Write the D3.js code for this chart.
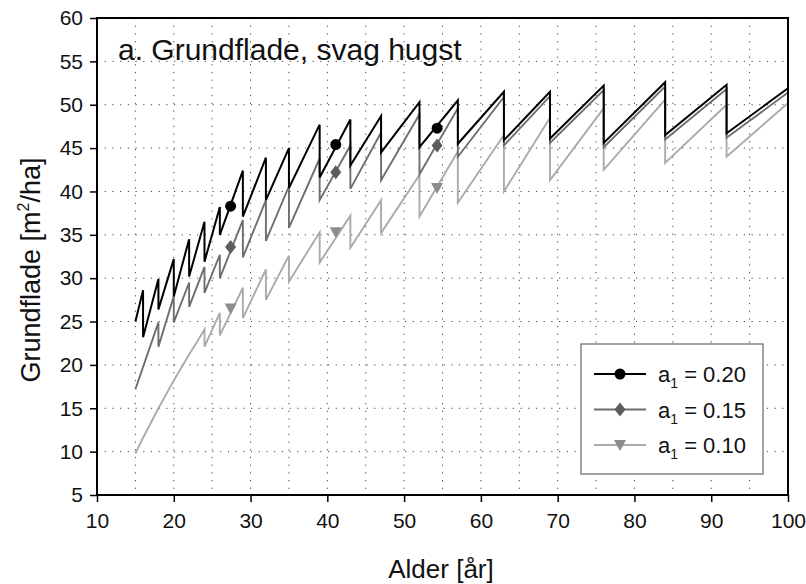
<!DOCTYPE html>
<html>
<head>
<meta charset="utf-8">
<script src="https://cdn.jsdelivr.net/npm/d3@7/dist/d3.min.js"></script>
<style>
  body { margin: 0; background: #fff; }
  svg { display: block; font-family: 'Liberation Sans', Arial, sans-serif; }
</style>
</head>
<body>
<svg id="chart" width="806" height="584"></svg>
<script>
// thinning ages (hugst), shared by all three series
const hugstAlder = [16, 18, 20, 22, 24, 26, 29, 32, 35, 39, 43, 47, 52, 57, 63, 69, 76, 84, 92];

// a1 = 0.20 : basal area before / after each thinning
const start020 = [[15, 25.0]];
const foer020 = [28.6, 29.9, 32.2, 34.5, 36.5, 38.2, 42.4, 43.9, 45.0, 47.7, 48.3, 48.7, 50.3, 50.5, 51.5, 51.5, 52.2, 52.6, 52.3];
const efter020 = [23.2, 26.4, 27.9, 30.2, 31.9, 35.0, 37.1, 39.0, 40.4, 41.6, 43.0, 44.5, 45.1, 45.5, 45.9, 46.1, 45.6, 46.5, 46.7];
const slut020 = 51.9;

// a1 = 0.15
const start015 = [[15, 17.2]];
const foer015 = [null, 24.9, 27.9, 29.5, 31.3, 32.7, 36.7, 39.0, 40.6, 43.8, 45.3, 46.8, 48.9, 49.6, 50.9, 51.0, 51.7, 52.1, 51.8];
const efter015 = [null, 22.1, 24.9, 26.7, 28.3, 30.0, 32.4, 34.3, 35.8, 39.0, 40.3, 41.3, 42.0, 44.0, 45.3, 45.6, 45.1, 46.0, 46.2];
const slut015 = 51.4;

// a1 = 0.10
const start010 = [[15, 9.8], [16, 11.6], [17, 13.3], [18, 15.0], [19, 16.6], [20, 18.2], [21, 19.7], [22, 21.2], [23, 22.6]];
const foer010 = [null, null, null, null, 24.1, 26.0, 28.9, 31.0, 32.6, 35.3, 37.2, 39.0, 41.9, 44.6, 46.5, 48.5, 49.6, 50.6, 50.0];
const efter010 = [null, null, null, null, 22.1, 23.4, 25.4, 27.5, 29.6, 31.8, 33.5, 35.2, 37.1, 38.7, 40.0, 41.3, 42.5, 43.3, 44.0];
const slut010 = 50.2;

// marker positions
const mark020 = [[27.4, 38.3], [41.1, 45.4], [54.3, 47.3]];
const mark015 = [[27.4, 33.6], [41.1, 42.2], [54.3, 45.3]];
const mark010 = [[27.4, 26.5], [41.1, 35.3], [54.3, 40.4]];

const xTicks = [10, 20, 30, 40, 50, 60, 70, 80, 90, 100];
const yTicks = [5, 10, 15, 20, 25, 30, 35, 40, 45, 50, 55, 60];
const legendLabels = ['0.20', '0.15', '0.10'];

const margin = { top: 18, left: 97, right: 18, bottom: 89 };
const svg = d3.select('#chart');
const W = +svg.attr('width'), H = +svg.attr('height');
const w = W - margin.left - margin.right;
const h = H - margin.top - margin.bottom;

const x = d3.scaleLinear().domain([10, 100]).range([0, w]);
const y = d3.scaleLinear().domain([5, 60]).range([h, 0]);

const g = svg.append('g').attr('transform', `translate(${margin.left},${margin.top})`);

// dotted grid, every 5 units both ways
const gridX = d3.range(15, 100, 5);
const gridY = d3.range(10, 60, 5);
g.append('g').selectAll('line').data(gridX).join('line')
  .attr('x1', d => x(d)).attr('x2', d => x(d))
  .attr('y1', 0).attr('y2', h)
  .attr('stroke', '#444').attr('stroke-width', 1)
  .attr('stroke-dasharray', '1.2,6.5');
g.append('g').selectAll('line').data(gridY).join('line')
  .attr('y1', d => y(d)).attr('y2', d => y(d))
  .attr('x1', 0).attr('x2', w)
  .attr('stroke', '#444').attr('stroke-width', 1)
  .attr('stroke-dasharray', '1.2,6.5');

// build sawtooth point list
const buildSeries = (start, foer, efter, slut) => {
  const pts = start.slice();
  hugstAlder.forEach((a, i) => {
    if (foer[i] === null) return;
    pts.push([a, foer[i]]);
    pts.push([a, efter[i]]);
  });
  pts.push([100, slut]);
  return pts;
};

const series = [
  { pts: buildSeries(start010, foer010, efter010, slut010), color: '#aaaaaa', width: 1.9, marks: mark010, shape: 'tri', fill: '#8c8c8c' },
  { pts: buildSeries(start015, foer015, efter015, slut015), color: '#6e6e6e', width: 1.9, marks: mark015, shape: 'dia', fill: '#5c5c5c' },
  { pts: buildSeries(start020, foer020, efter020, slut020), color: '#000', width: 2, marks: mark020, shape: 'circ', fill: '#000' }
];

const line = d3.line().x(d => x(d[0])).y(d => y(d[1]));

const symbolPath = (shape) => {
  if (shape === 'circ') return d3.symbol(d3.symbolCircle, 95)();
  if (shape === 'dia') return 'M0,-7L5.5,0L0,7L-5.5,0Z';
  return 'M-6,-5L6,-5L0,6Z';
};

series.forEach(s => {
  g.append('path')
    .attr('d', line(s.pts))
    .attr('fill', 'none')
    .attr('stroke', s.color)
    .attr('stroke-width', s.width)
    .attr('stroke-linejoin', 'miter');
});
series.forEach(s => {
  g.append('g').selectAll('path').data(s.marks).join('path')
    .attr('transform', d => `translate(${x(d[0])},${y(d[1])})`)
    .attr('d', symbolPath(s.shape))
    .attr('fill', s.fill);
});

// frame
g.append('rect')
  .attr('width', w).attr('height', h)
  .attr('fill', 'none').attr('stroke', '#000').attr('stroke-width', 2);

// axes
const xAxis = g.append('g')
  .attr('transform', `translate(0,${h})`)
  .call(d3.axisBottom(x).tickValues(xTicks).tickSize(7).tickPadding(11));
const yAxis = g.append('g')
  .call(d3.axisLeft(y).tickValues(yTicks).tickSize(7).tickPadding(7));
[xAxis, yAxis].forEach(a => {
  a.select('.domain').remove();
  a.selectAll('.tick line').attr('stroke', '#000').attr('stroke-width', 1.5);
  a.selectAll('.tick text')
    .attr('fill', '#111')
    .style('font-family', "'Liberation Sans', Arial, sans-serif")
    .style('font-size', '21px');
});

// title inside plot
g.append('text')
  .attr('x', 21).attr('y', 42)
  .attr('font-size', 30).attr('fill', '#111')
  .text('a. Grundflade, svag hugst');

// axis titles
svg.append('text')
  .attr('x', 441).attr('y', 578)
  .attr('text-anchor', 'middle')
  .attr('font-size', 26).attr('fill', '#111')
  .text('Alder [år]');

const yLab = svg.append('text')
  .attr('transform', 'translate(40,270) rotate(-90)')
  .attr('text-anchor', 'middle')
  .attr('font-size', 27).attr('fill', '#111');
yLab.append('tspan').text('Grundflade [m');
yLab.append('tspan').attr('dy', -11).attr('font-size', 16).text('2');
yLab.append('tspan').attr('dy', 11).text('/ha]');

// legend
const lg = svg.append('g').attr('transform', 'translate(581,344)');
lg.append('rect')
  .attr('width', 182).attr('height', 130)
  .attr('fill', '#fff').attr('stroke', '#666').attr('stroke-width', 1.2);

const legendSeries = series.slice().reverse();
legendSeries.forEach((s, i) => {
  const row = lg.append('g').attr('transform', `translate(0,${30 + i * 35.5})`);
  row.append('line')
    .attr('x1', 13).attr('x2', 65)
    .attr('stroke', s.color).attr('stroke-width', s.width);
  row.append('path')
    .attr('transform', 'translate(39,0)')
    .attr('d', symbolPath(s.shape))
    .attr('fill', s.fill);
  const t = row.append('text')
    .attr('x', 77).attr('y', 8)
    .attr('font-size', 22).attr('fill', '#111');
  t.append('tspan').text('a');
  t.append('tspan').attr('dy', 6).attr('font-size', 14).text('1');
  t.append('tspan').attr('dy', -6).text(' = ' + legendLabels[i]);
});
</script>
</body>
</html>
